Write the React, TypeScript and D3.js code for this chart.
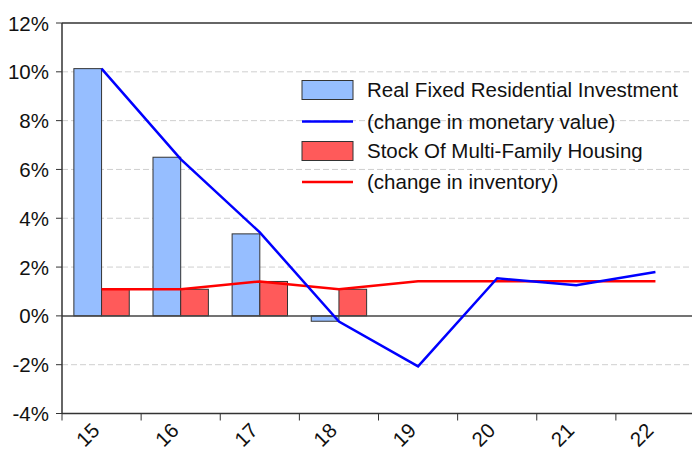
import React from "react";
import * as d3 from "d3";

const categories = ["15", "16", "17", "18", "19", "20", "21", "22"];
const investmentBars: (number | null)[] = [10.13, 6.5, 3.36, -0.22, null, null, null, null];
const investmentLine: number[] = [10.13, 6.42, 3.42, -0.23, -2.07, 1.54, 1.26, 1.8];
const stockBars: (number | null)[] = [1.09, 1.09, 1.41, 1.09, null, null, null, null];
const stockLine: number[] = [1.09, 1.09, 1.41, 1.09, 1.42, 1.42, 1.42, 1.42];
const yTicks = [-4, -2, 0, 2, 4, 6, 8, 10, 12];
const legendLabels = [
  "Real Fixed Residential Investment",
  "(change in monetary value)",
  "Stock Of Multi-Family Housing",
  "(change in inventory)",
];

const W = 692;
const H = 453;
const left = 62;
const right = 695;
const top = 23;
const bottom = 413.5;

const BLUE_BAR = "#96BEFF";
const RED_BAR = "#FF5A5A";
const FONT = "Liberation Sans, Arial, sans-serif";
const FS = 20.5;

export default function App() {
  const x = d3.scaleBand<string>().domain(categories).range([left, right]).padding(0);
  const y = d3.scaleLinear().domain([-4, 12]).range([bottom, top]);
  const bw = x.bandwidth();
  const barW = bw * 0.35;
  const cx = (c: string) => (x(c) as number) + bw / 2;

  const lineGen = d3
    .line<number>()
    .x((_, i) => cx(categories[i]))
    .y((d) => y(d));

  const legendX = 302;
  const legendTextX = 367;
  const rowY = [90, 121.5, 151, 182];

  return (
    <svg
      width={W}
      height={H}
      style={{ position: "absolute", left: 0, top: 0, background: "#fff" }}
      fontFamily={FONT}
    >
      <rect x={0} y={0} width={W} height={H} fill="#fff" />
      {yTicks
        .filter((t) => t !== 0 && t !== 12 && t !== -4)
        .map((t) => (
          <line
            key={"g" + t}
            x1={left}
            x2={right}
            y1={y(t)}
            y2={y(t)}
            stroke="#cfcfcf"
            strokeWidth={1}
            strokeDasharray="6,3"
          />
        ))}
      <g>
        <rect x={legendX} y={rowY[0] - 9.5} width={51} height={19} fill={BLUE_BAR} stroke="#333" strokeWidth={1} />
        <line x1={legendX} x2={legendX + 51} y1={rowY[1]} y2={rowY[1]} stroke="#0000FF" strokeWidth={2.5} />
        <rect x={legendX} y={rowY[2] - 9.5} width={51} height={19} fill={RED_BAR} stroke="#333" strokeWidth={1} />
        <line x1={legendX} x2={legendX + 51} y1={rowY[3]} y2={rowY[3]} stroke="#FF0000" strokeWidth={2.5} />
        {legendLabels.map((l, i) => (
          <text key={l} x={legendTextX} y={rowY[i] + 7} fontSize={FS} fill="#111">
            {l}
          </text>
        ))}
      </g>
      {categories.map((c, i) => {
        const v = investmentBars[i];
        if (v == null) return null;
        return (
          <rect
            key={"b" + c}
            x={cx(c) - barW}
            y={Math.min(y(v), y(0))}
            width={barW}
            height={Math.abs(y(v) - y(0))}
            fill={BLUE_BAR}
            stroke="#333"
            strokeWidth={1}
          />
        );
      })}
      {categories.map((c, i) => {
        const v = stockBars[i];
        if (v == null) return null;
        return (
          <rect
            key={"r" + c}
            x={cx(c)}
            y={Math.min(y(v), y(0))}
            width={barW}
            height={Math.abs(y(v) - y(0))}
            fill={RED_BAR}
            stroke="#333"
            strokeWidth={1}
          />
        );
      })}
      <line x1={left} x2={right} y1={y(0)} y2={y(0)} stroke="#444" strokeWidth={1.5} />
      <path d={lineGen(stockLine) || ""} fill="none" stroke="#FF0000" strokeWidth={2.5} />
      <path d={lineGen(investmentLine) || ""} fill="none" stroke="#0000FF" strokeWidth={2.5} />
      <line x1={left} x2={right} y1={top} y2={top} stroke="#333" strokeWidth={1.5} />
      <line x1={left} x2={right} y1={bottom} y2={bottom} stroke="#333" strokeWidth={1.5} />
      <line x1={left} x2={left} y1={top} y2={bottom} stroke="#333" strokeWidth={1.5} />
      {yTicks.map((t) => (
        <g key={"yt" + t}>
          <line x1={left - 6} x2={left} y1={y(t)} y2={y(t)} stroke="#333" strokeWidth={1} />
          <text x={49} y={y(t) + 7.5} fontSize={FS} textAnchor="end" fill="#111">
            {t + "%"}
          </text>
        </g>
      ))}
      {categories.map((c) => (
        <line
          key={"xt" + c}
          x1={x(c) as number}
          x2={x(c) as number}
          y1={bottom}
          y2={bottom + 7}
          stroke="#333"
          strokeWidth={1}
        />
      ))}
      {categories.map((c) => (
        <text
          key={"xl" + c}
          transform={`translate(${cx(c) - 6},${bottom + 13}) rotate(-45)`}
          fontSize={FS}
          textAnchor="end"
          dominantBaseline="central"
          fill="#111"
        >
          {c}
        </text>
      ))}
    </svg>
  );
}
